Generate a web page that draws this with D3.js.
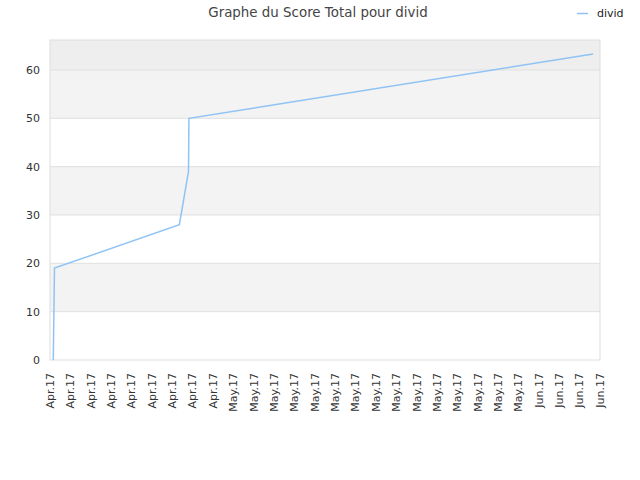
<!DOCTYPE html>
<html>
<head>
<meta charset="utf-8">
<script src="https://cdn.jsdelivr.net/npm/d3@7"></script>
<style>
  body { margin: 0; background: #fff; }
  text { font-family: "DejaVu Sans", sans-serif; }
</style>
</head>
<body>
<div id="chart"></div>
<script>
// DATA ------------------------------
const title = "Graphe du Score Total pour divid";
const seriesName = "divid";
const tickLabels = [
  "Apr.17","Apr.17","Apr.17","Apr.17","Apr.17","Apr.17","Apr.17","Apr.17","Apr.17",
  "May.17","May.17","May.17","May.17","May.17","May.17","May.17","May.17","May.17",
  "May.17","May.17","May.17","May.17","May.17","May.17",
  "Jun.17","Jun.17","Jun.17","Jun.17"
];
// position along the axis, in tick units (0 = first tick)
const pointPos = [0.16, 0.17, 0.22, 6.35, 6.80, 6.82, 26.66];
const pointScore = [0, 3, 19, 28, 39, 50, 63.3];
const yTicks = [0, 10, 20, 30, 40, 50, 60];
const yMax = 66.2;

// CHART INIT ------------------------------
const margin = {top: 40, right: 40, bottom: 120, left: 50};
const width = 640 - margin.left - margin.right;
const height = 480 - margin.top - margin.bottom;

const root = d3.select("#chart").append("svg")
  .attr("width", 640)
  .attr("height", 480);

const svg = root.append("g")
  .attr("transform", "translate(" + margin.left + "," + margin.top + ")");

const xScale = d3.scaleLinear()
  .domain([0, tickLabels.length - 1])
  .range([0, width]);

const yScale = d3.scaleLinear()
  .domain([0, yMax])
  .range([height, 0]);

// alternating bands
const bands = yTicks.map((t, i) => ({lo: t, hi: Math.min(yTicks[i + 1] ?? yMax, yMax), i}));
svg.selectAll(".band")
  .data(bands)
  .enter()
  .append("rect")
  .attr("class", "band")
  .attr("x", 0)
  .attr("width", width)
  .attr("y", d => yScale(d.hi))
  .attr("height", d => yScale(d.lo) - yScale(d.hi))
  .attr("fill", d => d.i == 6 ? "#eeeeee" : (d.i % 2 == 1 ? "#f3f3f3" : "#ffffff"));

// grid lines
svg.selectAll(".grid")
  .data(yTicks.slice(1))
  .enter()
  .append("line")
  .attr("class", "grid")
  .attr("x1", 0)
  .attr("x2", width)
  .attr("y1", d => yScale(d))
  .attr("y2", d => yScale(d))
  .attr("stroke", "#e0e0e0")
  .attr("stroke-width", 1);

// frame
svg.append("rect")
  .attr("x", 0)
  .attr("y", 0)
  .attr("width", width)
  .attr("height", height)
  .attr("fill", "none")
  .attr("stroke", "#dddddd");

// axes
const yAxis = d3.axisLeft(yScale)
  .tickValues(yTicks)
  .tickSize(0)
  .tickPadding(10);

svg.append("g")
  .attr("class", "y-axis")
  .call(yAxis)
  .call(g => g.select(".domain").remove())
  .selectAll("text")
  .attr("font-size", 11)
  .attr("fill", "#333");

const xAxis = d3.axisBottom(xScale)
  .tickValues(d3.range(tickLabels.length))
  .tickFormat(i => tickLabels[i])
  .tickSize(0);

svg.append("g")
  .attr("class", "x-axis")
  .attr("transform", `translate(0, ${height})`)
  .call(xAxis)
  .call(g => g.select(".domain").remove())
  .selectAll("text")
  .attr("font-size", 11)
  .attr("fill", "#333")
  .attr("text-anchor", "end")
  .attr("dy", "0.35em")
  .attr("transform", "translate(-0.5,13) rotate(-90)")
  .attr("x", 0)
  .attr("y", 0);

// line
const data = pointPos.map((p, i) => ({pos: p, score: pointScore[i]}));
const line = d3.line()
  .x(d => xScale(d.pos))
  .y(d => yScale(d.score));

svg.append("path")
  .datum(data)
  .attr("fill", "none")
  .attr("stroke", "#90c3f5")
  .attr("stroke-width", 1.5)
  .attr("d", line);

// title
root.append("text")
  .attr("x", 318)
  .attr("y", 17)
  .attr("text-anchor", "middle")
  .attr("font-size", 13.4)
  .attr("fill", "#444")
  .text(title);

// legend
root.append("line")
  .attr("x1", 577)
  .attr("x2", 588)
  .attr("y1", 13.5)
  .attr("y2", 13.5)
  .attr("stroke", "#90c3f5")
  .attr("stroke-width", 1.5);

root.append("text")
  .attr("x", 597)
  .attr("y", 17)
  .attr("font-size", 11)
  .attr("fill", "#222")
  .text(seriesName);
</script>
</body>
</html>
